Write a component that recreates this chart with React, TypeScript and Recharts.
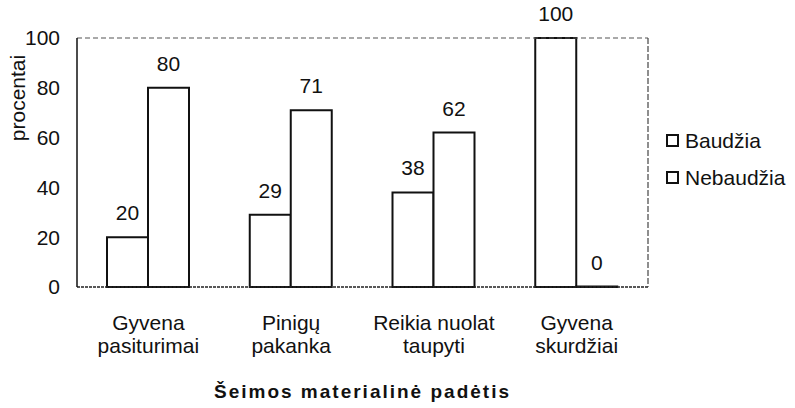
import React from 'react';
import { BarChart, Bar, XAxis, YAxis, ReferenceLine, Legend } from 'recharts';

const categories = ['Gyvena pasiturimai', 'Pinigų pakanka', 'Reikia nuolat taupyti', 'Gyvena skurdžiai'];
const tickLines = [
  ['Gyvena', 'pasiturimai'],
  ['Pinigų', 'pakanka'],
  ['Reikia nuolat', 'taupyti'],
  ['Gyvena', 'skurdžiai'],
];
const baudzia = [20, 29, 38, 100];
const nebaudzia = [80, 71, 62, 0];
const yTicks = [0, 20, 40, 60, 80, 100];
const seriesNames = ['Baudžia', 'Nebaudžia'];

const data = categories.map((c, i) => ({ name: c, b: baudzia[i], n: nebaudzia[i] }));

const FONT = '"Liberation Sans", Arial, Helvetica, sans-serif';

const CatTick = (props: any) => {
  const { x, y, payload } = props;
  const idx = categories.indexOf(payload.value);
  const lines = tickLines[idx] || [payload.value];
  return (
    <text x={x} y={y} textAnchor="middle" fontFamily={FONT} fontSize={21} fill="#111">
      {lines.map((l, i) => (
        <tspan key={i} x={x} dy={i === 0 ? 35 : 23}>{l}</tspan>
      ))}
    </text>
  );
};

const YLabel = (props: any) => {
  const { viewBox } = props;
  const cx = viewBox.x + 17;
  const cy = viewBox.y + 60;
  return (
    <text x={cx} y={cy} transform={`rotate(-90 ${cx} ${cy})`} textAnchor="middle" dominantBaseline="central" fontFamily={FONT} fontSize={21} fill="#111">
      procentai
    </text>
  );
};

const ValueLabel = (props: any) => {
  const { x, y, width, height, value } = props;
  if (value === undefined || value === null) return null;
  const top = Math.min(y, y + height);
  return (
    <text x={x + width / 2} y={top - 17} textAnchor="middle" fontFamily={FONT} fontSize={21} fill="#111">
      {value}
    </text>
  );
};

const LegendContent = () => (
  <div style={{ fontFamily: FONT, fontSize: 21, color: '#111' }}>
    {seriesNames.map((s) => (
      <div key={s} style={{ display: 'flex', alignItems: 'center', height: 37 }}>
        <span style={{ display: 'inline-block', width: 9, height: 9, border: '2px solid #111', marginRight: 6, background: '#fff' }} />
        <span>{s}</span>
      </div>
    ))}
  </div>
);

const zeroMin = (v: any) => (v === 0 ? 0.5 : 0);

export default function App() {
  return (
    <div style={{ position: 'absolute', left: 0, top: 0, background: '#fff' }}>
      <BarChart
        width={795}
        height={408}
        data={data}
        margin={{ top: 38, right: 16, left: 0, bottom: 0 }}
        barGap={0}
      >
        <XAxis
          dataKey="name"
          height={121}
          tickLine={false}
          axisLine={{ stroke: '#222', strokeWidth: 1.5, strokeDasharray: '3 1' }}
          tick={<CatTick />}
          interval={0}
          label={{ value: 'Šeimos materialinė padėtis', position: 'insideBottom', offset: 10, style: { fontFamily: FONT, fontSize: 19, fontWeight: 'bold', fill: '#111', letterSpacing: 2 } }}
        />
        <YAxis
          yAxisId="l"
          domain={[0, 100]}
          ticks={yTicks}
          width={77}
          tickLine={false}
          tickMargin={11}
          axisLine={{ stroke: '#111', strokeWidth: 1.5 }}
          tick={{ fontFamily: FONT, fontSize: 21, fill: '#111' }}
          label={<YLabel />}
        />
        <YAxis
          yAxisId="r"
          orientation="right"
          domain={[0, 100]}
          width={1}
          tick={false}
          tickLine={false}
          axisLine={{ stroke: '#444', strokeWidth: 1.2, strokeDasharray: '6 2' }}
        />
        <ReferenceLine yAxisId="l" y={100} stroke="#555" strokeWidth={1.2} strokeDasharray="5 3" />
        <Legend
          layout="vertical"
          align="right"
          verticalAlign="top"
          content={<LegendContent />}
          wrapperStyle={{ left: 666, top: 122, width: 130 }}
        />
        <Bar yAxisId="l" dataKey="b" name={seriesNames[0]} fill="#fff" stroke="#111" strokeWidth={2} barSize={41} isAnimationActive={false} label={<ValueLabel />} />
        <Bar yAxisId="l" dataKey="n" name={seriesNames[1]} fill="#fff" stroke="#111" strokeWidth={2} barSize={41} minPointSize={zeroMin} isAnimationActive={false} label={<ValueLabel />} />
      </BarChart>
    </div>
  );
}
